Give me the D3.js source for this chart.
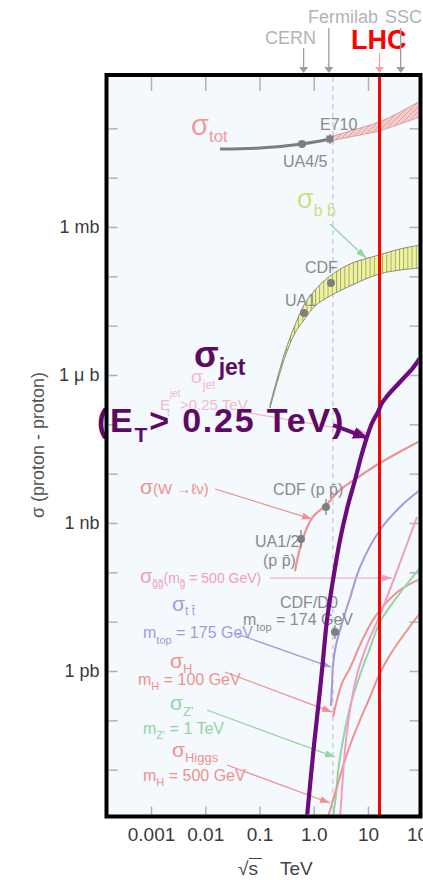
<!DOCTYPE html>
<html>
<head>
<meta charset="utf-8">
<script src="https://cdn.jsdelivr.net/npm/d3@7"></script>
<style>
  html, body { margin: 0; padding: 0; background: #ffffff; }
  svg { display: block; }
  text { font-family: "Liberation Sans Narrow", "Arial Narrow", "Liberation Sans", Arial, sans-serif; }
</style>
</head>
<body>
<svg id="chart" width="423" height="880"></svg>
<script>
// ---------------- data: sqrt(s) in TeV, cross-section in mb ----------------
const energyTicks = [0.001, 0.01, 0.1, 1, 10, 100];
const energyTickLabels = ["0.001", "0.01", "0.1", "1.0", "10", "100"];
const sigmaTicks = [1, 1e-3, 1e-6, 1e-9];
const sigmaTickLabels = ["1 mb", "1 \u03bc b", "1 nb", "1 pb"];

const colliderNames = ["CERN", "Fermilab", "LHC", "SSC"];
const colliderEnergies = [0.65, 1.9, 16.3, 40];
const tevatronEnergy = 2.26;
const lhcEnergy = 16.3;

// total cross-section: measured line, then predicted band
const totLineE = [0.0187, 0.102, 0.607, 1.99];
const totLineSigma = [38.1, 39.9, 48.2, 60.8];
const totBandE = [1.99, 4.66, 15.9, 38.9, 91];
const totBandHigh = [66.7, 88.3, 134.6, 214, 358];
const totBandLow = [55.4, 66.7, 88.3, 122.4, 170];

// b-bbar band
const bbE = [0.156, 0.295, 0.451, 0.661, 1.055, 1.99, 4.66, 15.9, 38.9, 91];
const bbHigh = [2.47e-4, 2.92e-3, 0.0103, 0.0262, 0.0528, 0.1016, 0.178, 0.271, 0.358, 0.432];
const bbLow = [2.14e-4, 2.32e-3, 7.10e-3, 0.0130, 0.0250, 0.0399, 0.0637, 0.1115, 0.134, 0.1476];

// jets with E_T > 0.25 TeV
const jetE = [0.751, 1.011, 1.304, 1.481, 1.755, 2.264, 3.047, 4.28, 5.76, 7.43, 9.58, 11.85, 15.29, 18.12, 23.37, 38.9, 67.5, 90.9];
const jetSigma = [1.1e-12, 3.16e-11, 4.11e-10, 1.67e-9, 1.08e-8, 6.98e-8, 4.52e-7, 2.31e-6, 7.43e-6, 2.18e-5, 5.54e-5, 1.06e-4, 1.78e-4, 2.71e-4, 3.93e-4, 7.21e-4, 1.39e-3, 2.21e-3];

// W -> l nu
const wE = [0.451, 0.607, 0.928, 1.682, 3.047, 6.27, 16.64, 90.9];
const wSigma = [1.06e-7, 4.31e-7, 1.26e-6, 2.31e-6, 4.67e-6, 8.17e-6, 1.64e-5, 4.59e-5];

// gluino pairs, m = 500 GeV
const gluinoE = [3.047, 3.317, 3.767, 4.658, 6.27, 8.8, 11.85, 16.64, 35.7, 80];
const gluinoSigma = [1.1e-12, 3.87e-12, 2.5e-11, 1.62e-10, 8.29e-10, 2.66e-9, 5.89e-9, 1.36e-8, 1.22e-7, 1.32e-6];

// top pairs, m_top = 175 GeV
const ttE = [2.08, 2.17, 2.264, 2.572, 3.461, 4.658, 7.12, 16.64, 38.9, 90.9];
const ttSigma = [1.95e-10, 5.2e-10, 1.32e-9, 3.36e-9, 1.08e-8, 3.01e-8, 1.28e-7, 7.21e-7, 2.11e-6, 4.67e-6];

// Higgs, m_H = 100 GeV
const h100E = [2.264, 2.684, 3.317, 4.658, 7.12, 10.89, 16.64, 38.9, 90.9];
const h100Sigma = [1.17e-10, 2.58e-10, 5.71e-10, 1.15e-9, 3.36e-9, 8.55e-9, 1.72e-8, 4.38e-8, 7.32e-8];

// Z', m = 1 TeV
const zpE = [2.264, 2.572, 2.799, 3.461, 4.658, 7.12, 10.89, 16.64, 38.9, 90.9];
const zpSigma = [1.1e-12, 3.06e-12, 8.95e-12, 3.99e-11, 1.86e-10, 8.29e-10, 2.92e-9, 9.84e-9, 3.81e-8, 1.22e-7];

// Higgs, m_H = 500 GeV
const h500E = [1.831, 2.264, 2.799, 3.611, 5.07, 7.12, 10.89, 16.64, 25.4, 38.9, 90.9];
const h500Sigma = [1.1e-12, 2.42e-12, 5.36e-12, 1.36e-11, 3.99e-11, 1.01e-10, 2.97e-10, 9.1e-10, 2.11e-9, 4.25e-9, 1.5e-8];

// measurements: UA4/5, E710, CDF(bb), UA1(bb), CDF(W), UA1/2(W), CDF/D0(top)
const measE = [0.607, 1.99, 2.08, 0.661, 1.682, 0.582, 2.465];
const measSigma = [48.2, 60.8, 0.0733, 0.0181, 2.11e-6, 4.73e-7, 6.17e-9];

// label-to-curve pointers: [E, sigma] start and end
const pointerStart = [[1.99, 1.15], [0.0496, 1.78e-4], [0.01512, 4.89e-6], [0.156, 7.67e-8], [0.03848, 5.62e-9], [0.02312, 9.53e-10], [0.01077, 1.62e-10], [0.02518, 1.24e-11], [2.264, 9.69e-5]];
const pointerEnd = [[9.19, 0.235], [9.58, 6.67e-5], [0.928, 1.2e-6], [27.7, 7.67e-8], [2.08, 1.2e-9], [2.17, 1.47e-10], [2.465, 1.8e-11], [1.99, 2.11e-12], [10.0, 5.28e-5]];

// ---------------- drawing ----------------
const svg = d3.select("#chart");
const frame = { left: 106.5, top: 75, right: 420.5, bottom: 816.5 };
const inner = { left: 108.5, top: 77, right: 418.5, bottom: 814.5 };

const x = d3.scaleLog().domain([0.001, 10]).range([151, 368]);
const y = d3.scaleLog().domain([1, 1e-9]).range([227, 671]);

const C = {
  salmon: "#f2908e", pink: "#f29cc4", green: "#8fd6a0", lavender: "#a898da",
  grey: "#7f7f7f", purple: "#6c0b7e", purpleText: "#5e0a63", bbText: "#cfe07e"
};

const defs = svg.append("defs");
defs.append("clipPath").attr("id", "plotClip").append("rect")
  .attr("x", inner.left).attr("y", inner.top)
  .attr("width", inner.right - inner.left).attr("height", inner.bottom - inner.top);

const totPat = defs.append("pattern").attr("id", "totHatch").attr("patternUnits", "userSpaceOnUse")
  .attr("width", 5).attr("height", 5);
totPat.append("rect").attr("width", 5).attr("height", 5).attr("fill", "#f7cbc8");
totPat.append("path").attr("d", "M0,5L5,0M-1,1L1,-1M4,6L6,4").attr("stroke", "#d49a9a").attr("stroke-width", 0.8);

const bbPat = defs.append("pattern").attr("id", "bbHatch").attr("patternUnits", "userSpaceOnUse")
  .attr("width", 4.2).attr("height", 10);
bbPat.append("rect").attr("width", 4.2).attr("height", 10).attr("fill", "#eef39c");
bbPat.append("line").attr("x1", 0.5).attr("x2", 0.5).attr("y1", 0).attr("y2", 10)
  .attr("stroke", "#8d8d62").attr("stroke-width", 0.8);

function marker(id, color, w, h) {
  defs.append("marker").attr("id", id).attr("markerUnits", "userSpaceOnUse")
    .attr("viewBox", `0 0 ${w} ${h}`).attr("refX", w).attr("refY", h / 2)
    .attr("markerWidth", w).attr("markerHeight", h).attr("orient", "auto")
    .append("path").attr("d", `M0,0L${w},${h / 2}L0,${h}Z`).attr("fill", color);
}
marker("mGreen", C.green, 10, 7);
marker("mPink", "#f5b3c8", 10, 7);
marker("mSalmon", C.salmon, 10, 7);
marker("mPinkG", C.pink, 10, 7);
marker("mLav", C.lavender, 8, 6);
marker("mPurple", C.purple, 15, 12);

// plot background
svg.append("rect").attr("x", frame.left).attr("y", frame.top)
  .attr("width", frame.right - frame.left).attr("height", frame.bottom - frame.top)
  .attr("fill", "#f3f9fd");

// axes: inward grey ticks on all four sides
const decades = d3.range(2, -12, -1).map(k => Math.pow(10, k));
const innerTicks = energyTicks.filter(e => x(e) < inner.right);

function styleAxis(g) {
  g.select(".domain").remove();
  g.selectAll(".tick line").attr("stroke", "#b3b3b3").attr("stroke-width", 1.5);
  g.selectAll(".tick text").attr("fill", "#3a3a3a").style("font-size", "19px");
}

svg.append("g").attr("transform", `translate(0,${inner.bottom})`)
  .call(d3.axisBottom(x).tickValues(innerTicks).tickSizeInner(-8).tickSizeOuter(0).tickFormat(""))
  .call(styleAxis);
svg.append("g").attr("transform", `translate(0,${frame.bottom + 2})`)
  .call(d3.axisBottom(x).tickValues(energyTicks).tickSize(0).tickPadding(9)
    .tickFormat((d, i) => energyTickLabels[i]))
  .call(styleAxis);
svg.append("g").attr("transform", `translate(0,${inner.top})`)
  .call(d3.axisTop(x).tickValues(innerTicks).tickSizeInner(-14).tickSizeOuter(0).tickFormat(""))
  .call(styleAxis);
svg.append("g").attr("transform", `translate(${inner.left},0)`)
  .call(d3.axisLeft(y).tickValues(decades).tickSizeInner(-9).tickSizeOuter(0).tickFormat(""))
  .call(styleAxis);
svg.append("g").attr("transform", `translate(${frame.left - 2},0)`)
  .call(d3.axisLeft(y).tickValues(sigmaTicks).tickSize(0).tickPadding(5)
    .tickFormat((d, i) => sigmaTickLabels[i]))
  .call(styleAxis)
  .selectAll(".tick text").style("font-size", "18px");
svg.append("g").attr("transform", `translate(${inner.right},0)`)
  .call(d3.axisRight(y).tickValues(decades).tickSizeInner(-9).tickSizeOuter(0).tickFormat(""))
  .call(styleAxis);

// plot content
const plot = svg.append("g").attr("clip-path", "url(#plotClip)");
const zip = (es, ss) => es.map((e, i) => [e, ss[i]]);
const line = d3.line().x(d => x(d[0])).y(d => y(d[1])).curve(d3.curveCatmullRom.alpha(0.5));
const band = d3.area().x(d => x(d.e)).y0(d => y(d.lo)).y1(d => y(d.hi)).curve(d3.curveCatmullRom.alpha(0.5));

// Tevatron energy marker
plot.append("line").attr("x1", x(tevatronEnergy)).attr("x2", x(tevatronEnergy))
  .attr("y1", inner.top).attr("y2", inner.bottom)
  .attr("stroke", "#b9b9dc").attr("stroke-width", 1).attr("stroke-dasharray", "5,4");

// total cross-section
plot.append("path").attr("d", line(zip(totLineE, totLineSigma)))
  .attr("fill", "none").attr("stroke", "#7d7d7d").attr("stroke-width", 3);
plot.append("path")
  .attr("d", band(totBandE.map((e, i) => ({ e, lo: totBandLow[i], hi: totBandHigh[i] }))))
  .attr("fill", "url(#totHatch)").attr("stroke", "#c99494").attr("stroke-width", 0.8);

// b-bbar band
plot.append("path")
  .attr("d", band(bbE.map((e, i) => ({ e, lo: bbLow[i], hi: bbHigh[i] }))))
  .attr("fill", "url(#bbHatch)").attr("stroke", "#7f806c").attr("stroke-width", 0.9);

// process curves
const curves = [
  [wE, wSigma, C.salmon, 2.2],
  [ttE, ttSigma, C.lavender, 2],
  [h100E, h100Sigma, C.salmon, 2],
  [zpE, zpSigma, C.green, 2],
  [h500E, h500Sigma, C.salmon, 2],
  [gluinoE, gluinoSigma, C.pink, 2]
];
curves.forEach(([es, ss, col, w]) => {
  plot.append("path").attr("d", line(zip(es, ss)))
    .attr("fill", "none").attr("stroke", col).attr("stroke-width", w);
});

// label pointers
const pointerStyle = [
  ["#8fd49a", "mGreen", 1.2], ["#f5b3c8", "mPink", 1.2], [C.salmon, "mSalmon", 1.2],
  [C.pink, "mPinkG", 1.2], [C.lavender, "mLav", 1.2], [C.salmon, "mSalmon", 1.2],
  ["#8fd49a", "mGreen", 1.2], [C.salmon, "mSalmon", 1.2], [C.purple, "mPurple", 4]
];
const pointerLayer = svg.append("g");
pointerStart.forEach((s, i) => {
  const e = pointerEnd[i];
  const [col, mk, w] = pointerStyle[i];
  const g = i === 8 ? pointerLayer : plot;
  g.append("line").attr("x1", x(s[0])).attr("y1", y(s[1])).attr("x2", x(e[0])).attr("y2", y(e[1]))
    .attr("stroke", col).attr("stroke-width", w).attr("marker-end", `url(#${mk})`);
});

// measurements
const measShape = ["circle", "square", "circle", "circle", "circle", "circle", "circle"];
const measBar = [0, 5, 0, 0, 8, 9, 7];
measE.forEach((e, i) => {
  const cx = x(e), cy = y(measSigma[i]);
  if (measBar[i]) {
    plot.append("line").attr("x1", cx).attr("x2", cx).attr("y1", cy - measBar[i]).attr("y2", cy + measBar[i])
      .attr("stroke", C.grey).attr("stroke-width", 1.2);
  }
  if (measShape[i] === "square") {
    plot.append("rect").attr("x", cx - 3.5).attr("y", cy - 3.5).attr("width", 7).attr("height", 7).attr("fill", C.grey);
  } else {
    plot.append("circle").attr("cx", cx).attr("cy", cy).attr("r", 4).attr("fill", C.grey);
  }
});

// text helper: parts = [text, size, baseline offset]
function rich(g, px, py, parts, color, weight) {
  const t = g.append("text").attr("x", px).attr("y", py).attr("fill", color);
  if (weight) t.attr("font-weight", weight);
  parts.forEach(([s, size, off]) => {
    t.append("tspan").attr("y", py + (off || 0)).attr("font-size", size).text(s);
  });
  return t;
}

const labels = svg.append("g");
const sig = "\u03c3";
const greyTxt = "#8a8a8a";
rich(labels, 191, 135, [[sig, 29], ["tot", 17, 7]], "#f29a9b");
rich(labels, 297, 208, [[sig, 27], ["b b\u0304", 16, 8]], C.bbText);
rich(labels, 283, 167, [["UA4/5", 16]], greyTxt);
rich(labels, 320, 130, [["E710", 16]], greyTxt);
rich(labels, 305, 273, [["CDF", 16]], greyTxt);
rich(labels, 285, 306, [["UA1", 16]], greyTxt);

// faint jet label
rich(labels, 191, 383, [[sig, 19], ["jet", 12, 6]], "#f5b8cc");
rich(labels, 160, 410, [["E", 15], ["jet", 10, -13]], "#f5b8cc");
rich(labels, 167, 416, [["t", 10]], "#f5b8cc");
rich(labels, 180, 410, [[">0.25 TeV", 15]], "#f5b8cc");

rich(labels, 140, 494, [[sig, 21], ["(W \u2192\u2113\u03bd)", 15]], C.salmon);
rich(labels, 273, 495, [["CDF (p p\u0304)", 16]], greyTxt);
rich(labels, 255, 547, [["UA1/2", 16]], greyTxt);
rich(labels, 263, 566, [["(p p\u0304)", 16]], greyTxt);
rich(labels, 140, 583, [[sig, 20], ["g\u0303g\u0303", 10, 4], ["(m", 14], ["g\u0303", 10, 4], [" = 500 GeV)", 14]], C.pink);
rich(labels, 172, 611, [[sig, 21], ["t t\u0304", 12, 4]], C.lavender);
rich(labels, 143, 638, [["m", 16], ["top", 11, 6], [" = 175 GeV", 16]], C.lavender);
rich(labels, 280, 608, [["CDF/D0", 16]], greyTxt);
rich(labels, 243, 625, [["m", 16], ["top", 11, 6], [" = 174 GeV", 16]], greyTxt);
rich(labels, 170, 668, [[sig, 21], ["H", 13, 5]], C.salmon);
rich(labels, 138, 685, [["m", 16], ["H", 11, 5], [" = 100 GeV", 16]], C.salmon);
rich(labels, 170, 710, [[sig, 21], ["Z'", 13, 6]], C.green);
rich(labels, 143, 734, [["m", 16], ["Z'", 11, 5], [" = 1 TeV", 16]], C.green);
rich(labels, 172, 757, [[sig, 21], ["Higgs", 13, 5]], C.salmon);
rich(labels, 143, 781, [["m", 16], ["H", 11, 5], [" = 500 GeV", 16]], C.salmon);

// LHC energy
svg.append("line").attr("x1", x(lhcEnergy)).attr("x2", x(lhcEnergy))
  .attr("y1", frame.top).attr("y2", frame.bottom)
  .attr("stroke", "#ff0000").attr("stroke-width", 3);

// jet curve
svg.append("g").attr("clip-path", "url(#plotClip)").append("path")
  .attr("d", line(zip(jetE, jetSigma)))
  .attr("fill", "none").attr("stroke", C.purple).attr("stroke-width", 4.2);

// bold jet labels
const bold = "'Liberation Sans', Arial, sans-serif";
rich(labels, 194, 367, [[sig, 36], ["jet", 23, 8]], C.purpleText, "bold").style("font-family", bold);
rich(labels, 97, 432, [["(E", 34], ["T", 21, 10], ["> 0.25 TeV)", 34]], C.purpleText, "bold")
  .style("font-family", bold).attr("letter-spacing", 1.8);

// frame
svg.append("rect").attr("x", frame.left).attr("y", frame.top)
  .attr("width", frame.right - frame.left).attr("height", frame.bottom - frame.top)
  .attr("fill", "none").attr("stroke", "#000").attr("stroke-width", 4);

// collider markers above the frame
const colliderLabelPos = [[265, 44], [308, 23], [351, 49], [385, 23]];
const colliderArrowTop = [48, 28, 53, 28];
colliderEnergies.forEach((e, i) => {
  const cx = x(e);
  const isLHC = colliderNames[i] === "LHC";
  const col = isLHC ? "#f4a3aa" : "#9c9c9c";
  svg.append("line").attr("x1", cx).attr("x2", cx).attr("y1", colliderArrowTop[i]).attr("y2", 68)
    .attr("stroke", col).attr("stroke-width", 1.3);
  svg.append("path").attr("d", `M${cx - 4.5},67L${cx + 4.5},67L${cx},73Z`).attr("fill", col);
  const t = svg.append("text").attr("x", colliderLabelPos[i][0]).attr("y", colliderLabelPos[i][1])
    .text(colliderNames[i]);
  if (isLHC) t.attr("fill", "#ff0000").attr("font-weight", "bold").attr("font-size", 27);
  else t.attr("fill", "#b3b3b3").attr("font-size", 18);
});

// axis titles
rich(svg, 238, 875, [["\u221as", 19]], "#444");
svg.append("line").attr("x1", 249).attr("x2", 262).attr("y1", 858.5).attr("y2", 858.5)
  .attr("stroke", "#444").attr("stroke-width", 1);
rich(svg, 280, 875, [["TeV", 19]], "#444");

svg.append("text").attr("transform", "translate(44,445) rotate(-90)")
  .attr("text-anchor", "middle").attr("fill", "#555").attr("font-size", 18)
  .style("font-family", "'Liberation Sans', Arial, sans-serif")
  .text("\u03c3   (proton - proton)");
</script>
</body>
</html>
